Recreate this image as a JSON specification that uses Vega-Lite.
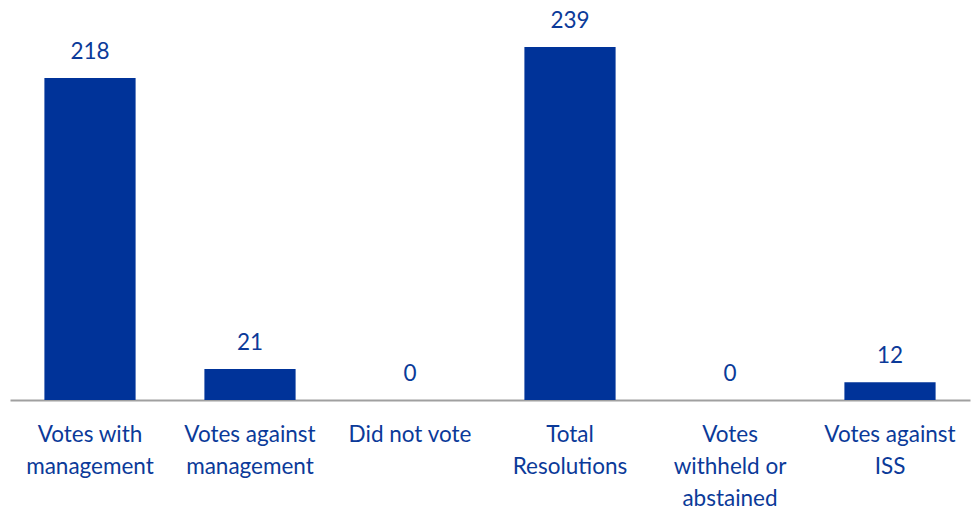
{
  "$schema": "https://vega.github.io/schema/vega-lite/v6.json",
  "autosize": "none",
  "width": 960,
  "height": 400,
  "padding": {"left": 10, "top": 0, "right": 1, "bottom": 113},
  "background": "white",
  "config": {"view": {"stroke": null}, "font": "Lato"},
  "data": {
    "values": [
      {"category": "Votes with|management", "count": 218},
      {"category": "Votes against|management", "count": 21},
      {"category": "Did not vote", "count": 0},
      {"category": "Total|Resolutions", "count": 239},
      {"category": "Votes|withheld or|abstained", "count": 0},
      {"category": "Votes against|ISS", "count": 12}
    ]
  },
  "encoding": {
    "x": {
      "field": "category",
      "type": "nominal",
      "sort": null,
      "scale": {"paddingInner": 0.43, "paddingOuter": 0.215},
      "axis": {
        "title": null,
        "labelAngle": 0,
        "labelExpr": "split(datum.label, '|')",
        "labelFont": "Lato",
        "labelFontSize": 22.5,
        "labelColor": "#0b3a99",
        "labelLineHeight": 32,
        "labelPadding": 23,
        "labelLimit": 300,
        "ticks": false,
        "domainColor": "#a0a0a0",
        "domainWidth": 2,
        "labelBaseline": "top"
      }
    },
    "y": {
      "field": "count",
      "type": "quantitative",
      "scale": {"domain": [0, 270.8], "nice": false, "zero": true},
      "axis": null
    }
  },
  "layer": [
    {"mark": {"type": "bar", "color": "#003399"}},
    {
      "mark": {"type": "text", "color": "#0b3a99", "fontSize": 22.5, "font": "Lato", "baseline": "alphabetic", "dy": -19},
      "encoding": {"text": {"field": "count", "type": "quantitative"}}
    }
  ]
}
